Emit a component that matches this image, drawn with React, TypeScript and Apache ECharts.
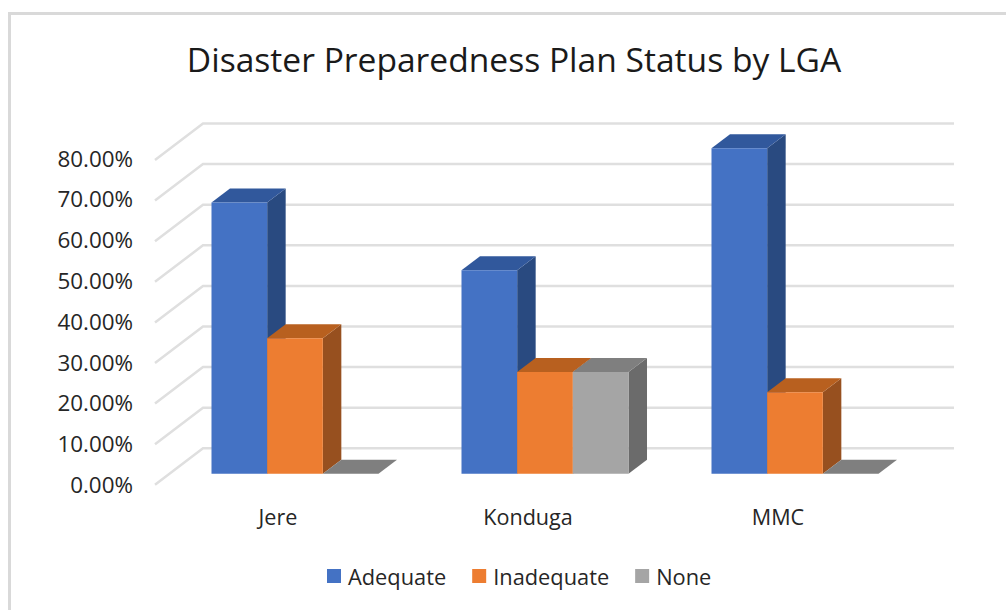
import React, { useEffect, useRef } from "react";
import * as echarts from "echarts";

const titleText = "Disaster Preparedness Plan Status by LGA";
const categories = ["Jere", "Konduga", "MMC"];
const adequate = [66.67, 50, 80];
const inadequate = [33.33, 25, 20];
const none = [0, 25, 0];
const seriesNames = ["Adequate", "Inadequate", "None"];
const yTicks = [0, 10, 20, 30, 40, 50, 60, 70, 80];

const FONT = "'Open Sans', sans-serif";
const TEXT = "#262626";
const GRID = "#dfdfdf";
const BAR_W = 55.67;
const DX = 18.5;
const DY = 14;
const WALL_DX = 48;
const WALL_DY = 36.5;

const palettes = [
  { front: "#4472c4", top: "#31589c", side: "#294a80" },
  { front: "#ed7d31", top: "#b8601f", side: "#97501f" },
  { front: "#a5a5a5", top: "#7f7f7f", side: "#6b6b6b" },
];

function barSeries(name: string, values: number[], idx: number) {
  const pal = palettes[idx];
  return {
    type: "custom",
    name,
    xAxisIndex: 0,
    yAxisIndex: 0,
    itemStyle: { color: pal.front },
    data: values.map((v, i) => [i, v]),
    encode: { x: 0, y: 1 },
    z: 3 + idx,
    renderItem: (_: any, api: any) => {
      const top = api.coord([api.value(0), api.value(1)]);
      const base = api.coord([api.value(0), 0]);
      const x0 = top[0] + (idx - 1.5) * BAR_W;
      const x1 = x0 + BAR_W;
      const yT = top[1];
      const yB = base[1];
      return {
        type: "group",
        children: [
          {
            type: "polygon",
            shape: { points: [[x1, yT], [x1 + DX, yT - DY], [x1 + DX, yB - DY], [x1, yB]] },
            style: { fill: pal.side },
          },
          {
            type: "polygon",
            shape: { points: [[x0, yT], [x0 + DX, yT - DY], [x1 + DX, yT - DY], [x1, yT]] },
            style: { fill: pal.top },
          },
          {
            type: "rect",
            shape: { x: x0, y: yT, width: BAR_W, height: yB - yT },
            style: { fill: pal.front },
          },
        ],
      };
    },
  };
}

export default function App() {
  const ref = useRef<HTMLDivElement>(null);
  useEffect(() => {
    const chart = echarts.init(ref.current!, null, { renderer: "svg" });
    chart.setOption({
      animation: false,
      backgroundColor: "#ffffff",
      title: {
        text: titleText,
        left: 509,
        top: 37,
        textAlign: "center",
        textStyle: { fontFamily: FONT, fontWeight: 400, fontSize: 33.6, color: "#1a1a1a" },
      },
      legend: {
        data: seriesNames,
        left: 322,
        top: 560,
        icon: "rect",
        itemWidth: 14,
        itemHeight: 14,
        itemGap: 26,
        textStyle: { fontFamily: FONT, fontSize: 21.8, color: TEXT, padding: [0, 0, 0, 2] },
      },
      grid: [
        { left: 170, width: 750, top: 148.3, height: 325.4 },
        { left: 153, width: 750, top: 158, height: 326.5 },
        { left: 203, width: 751, top: 123.5, height: 324.8 },
      ],
      xAxis: [
        { gridIndex: 0, type: "category", data: categories, show: false },
        {
          gridIndex: 1,
          type: "category",
          data: categories,
          axisLine: { show: false },
          axisTick: { show: false },
          axisLabel: { margin: 20.5, fontFamily: FONT, fontSize: 21.6, color: TEXT },
        },
        { gridIndex: 2, type: "value", min: 0, max: 1, show: false },
      ],
      yAxis: [
        { gridIndex: 0, type: "value", min: 0, max: 80, show: false },
        {
          gridIndex: 1,
          type: "value",
          min: 0,
          max: 80,
          interval: 10,
          axisLine: { show: false },
          axisTick: { show: false },
          splitLine: { show: false },
          axisLabel: {
            margin: 20,
            fontFamily: FONT,
            fontSize: 22.4,
            color: TEXT,
            formatter: (v: number) => v.toFixed(2) + "%",
          },
        },
        { gridIndex: 2, type: "value", min: 0, max: 80, show: false },
      ],
      graphic: [
        {
          type: "polyline",
          shape: { points: [[9.5, 610], [9.5, 13.5], [1006, 13.5]] },
          style: { stroke: "#d9d9d9", lineWidth: 3, fill: "none" },
          silent: true,
        },
      ],
      series: [
        {
          type: "custom",
          name: "walls",
          xAxisIndex: 2,
          yAxisIndex: 2,
          silent: true,
          z: 1,
          data: yTicks.map((v) => [0, v]),
          encode: { x: 0, y: 1 },
          renderItem: (_: any, api: any) => {
            const back = api.coord([0, api.value(1)]);
            const end = api.coord([1, api.value(1)]);
            return {
              type: "polyline",
              shape: {
                points: [[back[0] - WALL_DX, back[1] + WALL_DY], back, end],
              },
              style: { stroke: GRID, lineWidth: 2.5, fill: "none" },
            };
          },
        },
        barSeries(seriesNames[0], adequate, 0),
        barSeries(seriesNames[1], inadequate, 1),
        barSeries(seriesNames[2], none, 2),
      ],
    });
    return () => chart.dispose();
  }, []);
  return (
    <div
      ref={ref}
      style={{ position: "absolute", left: 0, top: 0, width: 1006, height: 610 }}
    />
  );
}
